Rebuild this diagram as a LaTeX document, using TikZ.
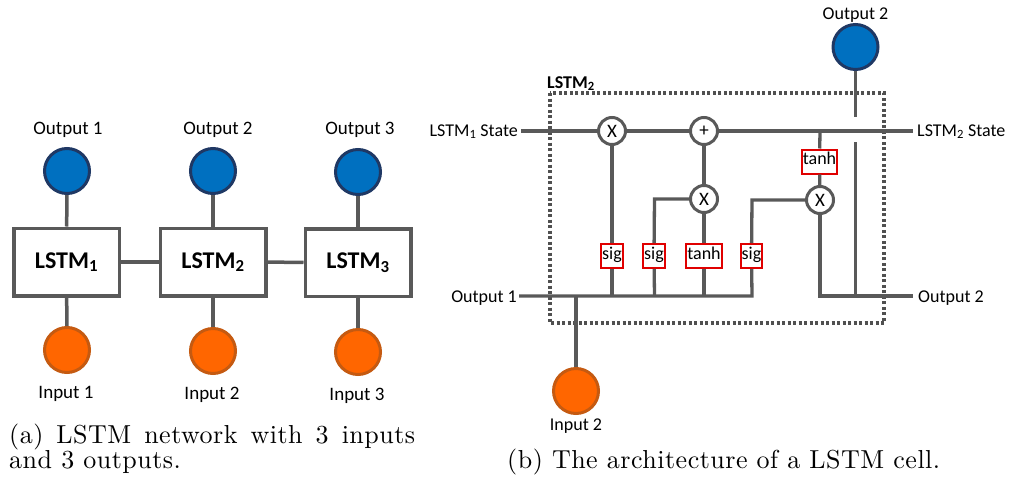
\documentclass[tikz,border=0pt]{standalone}
\usepackage{fontspec}
\newfontfamily\calfont{Carlito}
\newfontfamily\capfont{lmroman10-regular.otf}[LetterSpace=1.9]
\definecolor{lineg}{HTML}{595959}
\definecolor{dotg}{HTML}{505050}
\definecolor{blueF}{HTML}{0070C0}
\definecolor{navyB}{HTML}{1F3864}
\definecolor{orangeF}{HTML}{FF6600}
\definecolor{orangeB}{HTML}{C55A11}
\definecolor{redB}{HTML}{E00000}
\newcommand\lsub[1]{\textsubscript{#1}}
\begin{document}
\begin{tikzpicture}[x=1pt,y=-1pt,
  wire/.style={draw=lineg, line width=3.5pt},
  lbox/.style={draw=lineg, line width=3.5pt, fill=white, minimum width=105.5pt, minimum height=67.5pt, inner sep=0pt, font=\calfont\fontsize{24}{28}\selectfont\bfseries},
  outc/.style={circle, draw=navyB, line width=3pt, fill=blueF, minimum size=45pt, inner sep=0pt},
  inc/.style={circle, draw=orangeB, line width=3pt, fill=orangeF, minimum size=45pt, inner sep=0pt},
  labL/.style={font=\calfont\fontsize{19}{22}\selectfont, inner sep=0pt, anchor=base},
  labR/.style={font=\calfont\fontsize{18}{21}\selectfont, inner sep=0pt},
  opc/.style={circle, draw=lineg, line width=3pt, fill=white, minimum size=27pt, inner sep=0pt, font=\calfont\fontsize{19}{20}\selectfont},
  gate/.style={draw=redB, line width=2pt, fill=white, minimum height=24pt, inner sep=1pt, text height=9.5pt, text depth=3.5pt, font=\calfont\fontsize{18}{20}\selectfont},
  capt/.style={font=\capfont\fontsize{26}{28}\selectfont, inner sep=0pt, anchor=base west},
  dotbox/.style={draw=dotg, line width=3.5pt, dash pattern=on 3pt off 2.5pt}
]
\useasboundingbox (0,0) rectangle (1009,482);

% ---------- (a) LSTM network ----------
\node[lbox] (b1) at (66.5,262) {LSTM\lsub{1}};
\node[lbox] (b2) at (213,262) {LSTM\lsub{2}};
\node[lbox] (b3) at (358,262.5) {LSTM\lsub{3}};
\node[outc] (o1) at (67,171) {};
\node[outc] (o2) at (213,171) {};
\node[outc] (o3) at (358,172) {};
\node[inc] (i1) at (67,350) {};
\node[inc] (i2) at (213,351) {};
\node[inc] (i3) at (358,352) {};
\draw[wire] (o1) -- (b1); \draw[wire] (b1) -- (i1);
\draw[wire] (o2) -- (b2); \draw[wire] (b2) -- (i2);
\draw[wire] (o3) -- (b3); \draw[wire] (b3) -- (i3);
\draw[wire] (b1) -- (b2); \draw[wire] (b2) -- (b3);
\node[labL] (lo1) at (68,134) {Output 1};
\node[labL] (lo2) at (218,134.5) {Output 2};
\node[labL] (lo3) at (360,134.5) {Output 3};
\node[labL] (li1) at (66,398) {Input 1};
\node[labL] (li2) at (212,399) {Input 2};
\node[labL] (li3) at (357,400) {Input 3};

% ---------- (b) LSTM cell ----------
\draw[dotbox] (550,93) rectangle (884,323);
\node[labR, font=\calfont\fontsize{18}{21}\selectfont\bfseries, anchor=base west] (cellname) at (547,88) {LSTM\lsub{2}};

\node[opc] (X1) at (612,131) {X};
\node[opc] (P1) at (704,131) {+};
\node[opc] (X2) at (704,199) {X};
\node[opc] (X3) at (820,200) {X};
\node[gate] (s1) at (612,256) {sig};
\node[gate] (s2) at (654,256) {sig};
\node[gate] (t1) at (704,256) {tanh};
\node[gate] (s3) at (751.5,256) {sig};
\node[gate] (t2) at (819.5,161.5) {tanh};
\node[outc] (oc) at (855.5,47) {};
\node[inc] (ic) at (576,391) {};

\node[labR, anchor=base east] (lst1) at (518,136) {LSTM\lsub{1} State};
\node[labR, anchor=base west] (lst2) at (917,136) {LSTM\lsub{2} State};
\node[labR, anchor=base east] (lout1) at (517,302) {Output 1};
\node[labR, anchor=base west] (lout2) at (918,302) {Output 2};
\node[labR, anchor=base] (lout2t) at (855.5,19) {Output 2};
\node[labR, anchor=base] (lin2) at (576,430) {Input 2};

\coordinate (sA) at (521,131);
\coordinate (sB) at (913,131);
\coordinate (br) at (820,131);
\coordinate (oA) at (519,296);
\coordinate (j1) at (612,296);
\coordinate (j2) at (654.5,296);
\coordinate (j3) at (704,296);
\coordinate (j4) at (752,296);
\coordinate (ji) at (576,296);
\coordinate (k2) at (654.5,199);
\coordinate (k4) at (752,200);
\coordinate (q1) at (820,296);
\coordinate (q2) at (855.5,296);
\coordinate (oB) at (913,296);
\coordinate (g1) at (855.5,117);
\coordinate (g2) at (855.5,142);

\draw[wire, line width=3.3pt] (sA) -- (X1) -- (P1) -- (sB);
\draw[wire, line width=3.3pt] (X1) -- (s1) -- (j1);
\draw[wire, line width=3.3pt] (P1) -- (X2);
\draw[wire, line width=3.3pt] (X2) -- (k2) -- (s2) -- (j2);
\draw[wire, line width=3.3pt] (X2) -- (t1) -- (j3);
\draw[wire, line width=3.3pt] (oA) -- (j4) -- (s3) -- (k4) -- (X3);
\draw[wire, line width=3.3pt] (br) -- (t2) -- (X3);
\draw[wire, line width=3.3pt] (X3) -- (q1) -- (oB);
\draw[wire, line width=3.3pt] (g2) -- (q2);
\draw[wire, line width=3.3pt] (oc) -- (g1);
\draw[wire, line width=3.3pt] (ji) -- (ic);

% ---------- captions ----------
\node[capt] (capa1) at (9,443) {\makebox[406pt][s]{(a) LSTM network with 3 inputs}};
\node[capt] (capa2) at (9,468) {and 3 outputs.};
\node[capt] (capb) at (507,468) {(b) The architecture of a LSTM cell.};
\end{tikzpicture}
\end{document}
